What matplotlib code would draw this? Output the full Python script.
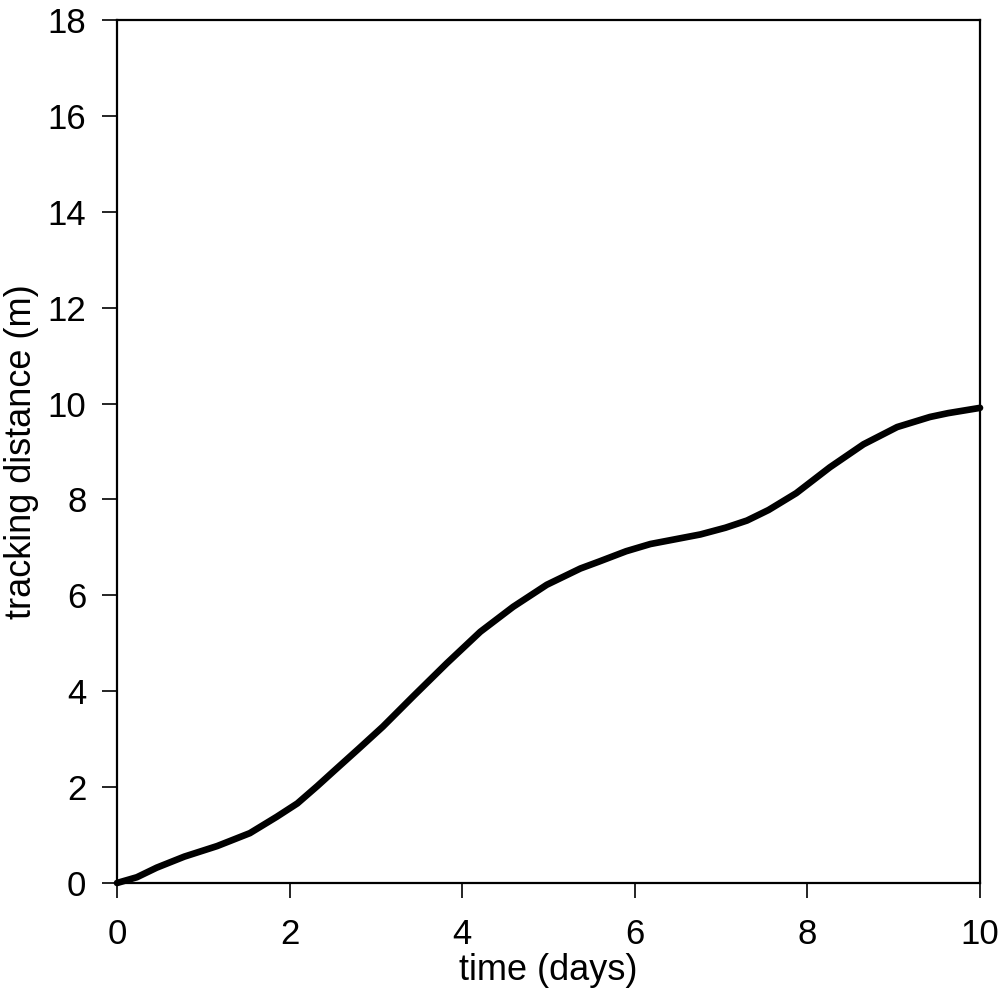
import matplotlib.pyplot as plt

plt.rcParams['font.family'] = ['Liberation Sans', 'DejaVu Sans']

time_days = [0, 0.23, 0.46, 0.78, 1.16, 1.54, 1.85, 2.09, 2.32, 2.51, 2.8, 3.08,
             3.43, 3.82, 4.21, 4.59, 4.98, 5.37, 5.58, 5.9, 6.18, 6.47, 6.76, 7.05,
             7.3, 7.55, 7.87, 8.26, 8.65, 9.04, 9.42, 9.63, 10]
distance_m = [0, 0.12, 0.32, 0.55, 0.77, 1.04, 1.38, 1.66, 2.02, 2.33, 2.8, 3.26,
              3.89, 4.58, 5.24, 5.76, 6.22, 6.56, 6.70, 6.92, 7.07, 7.17, 7.27, 7.41,
              7.56, 7.78, 8.13, 8.67, 9.15, 9.51, 9.72, 9.80, 9.91]

fig = plt.figure(figsize=(10.01, 9.94), dpi=100)
ax = fig.add_axes([117 / 1001, 111 / 994, 863 / 1001, 863 / 994])

ax.plot(time_days, distance_m, color='black', lw=4.8, solid_capstyle='round',
        solid_joinstyle='round', clip_on=False, zorder=3)

ax.set_xlim(0, 10)
ax.set_ylim(0, 18)
ax.set_xticks(range(0, 11, 2))
ax.set_yticks(range(0, 19, 2))
ax.tick_params(direction='out', length=11, width=1.2, labelsize=25)
ax.tick_params(axis='x', pad=14)
ax.tick_params(axis='y', pad=11)
for s in ax.spines.values():
    s.set_linewidth(1.6)

ax.set_xlabel('time (days)', fontsize=26, labelpad=2)
ax.set_ylabel('tracking distance (m)', fontsize=26, labelpad=6)

fig.savefig('out.png', dpi=100)
